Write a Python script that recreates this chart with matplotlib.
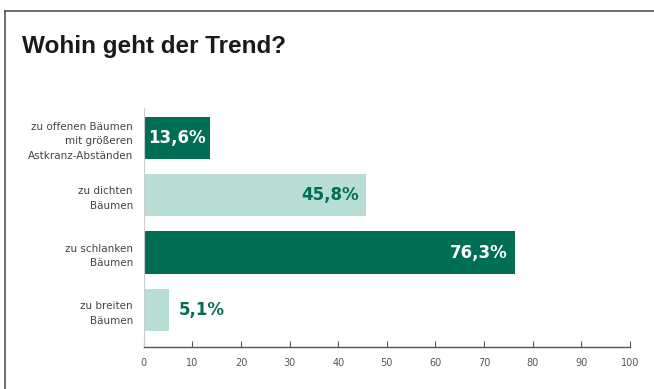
import matplotlib.pyplot as plt
from matplotlib.lines import Line2D

categories = ['zu offenen Bäumen\nmit größeren\nAstkranz-Abständen',
              'zu dichten\nBäumen',
              'zu schlanken\nBäumen',
              'zu breiten\nBäumen']
values = [13.6, 45.8, 76.3, 5.1]
labels = ['13,6%', '45,8%', '76,3%', '5,1%']

dark = '#006e55'
light = '#b8ddd4'
colors = [dark, light, dark, light]

fig = plt.figure(figsize=(6.54, 3.89), dpi=100)
ax = fig.add_axes([0.220, 0.108, 0.743, 0.614])

ypos = list(range(len(values)))
ax.barh(ypos, values, height=0.74, color=colors)

for y, v, lab, c in zip(ypos, values, labels, colors):
    if v < 10:
        ax.text(v + 2, y, lab, ha='left', va='center', color=dark,
                fontsize=12, fontweight='bold')
    elif v < 20:
        ax.text(v / 2, y, lab, ha='center', va='center', color='white',
                fontsize=12, fontweight='bold')
    else:
        tc = 'white' if c == dark else dark
        ax.text(v - 1.5, y, lab, ha='right', va='center', color=tc,
                fontsize=12, fontweight='bold')

ax.set_xlim(0, 100)
ax.set_ylim(3.646, -0.52)
ax.set_xticks(range(0, 101, 10))
ax.set_yticks(ypos)
ax.set_yticklabels(categories, fontsize=7.5, color='#444444', linespacing=1.6)
ax.tick_params(axis='y', length=0, pad=8)
ax.tick_params(axis='x', direction='in', length=4, width=0.8, color='#555555',
               labelsize=7, labelcolor='#555555', pad=8)

for s in ['top', 'right']:
    ax.spines[s].set_visible(False)
ax.spines['left'].set_color('#cccccc')
ax.spines['left'].set_linewidth(0.8)
ax.spines['bottom'].set_color('#555555')
ax.spines['bottom'].set_linewidth(1.0)

fig.text(22 / 654, 1 - 47 / 389, 'Wohin geht der Trend?', fontsize=17.5,
         family=['Liberation Sans', 'DejaVu Sans'],
         fontweight='bold', color='#1a1a1a', ha='left', va='center')

fig.add_artist(Line2D([5 / 654, 1], [1 - 11 / 389, 1 - 11 / 389],
                      transform=fig.transFigure, color='#555555', lw=1.2))
fig.add_artist(Line2D([5 / 654, 5 / 654], [0, 1 - 11 / 389],
                      transform=fig.transFigure, color='#555555', lw=1.2))

fig.savefig('out.png', dpi=100)
